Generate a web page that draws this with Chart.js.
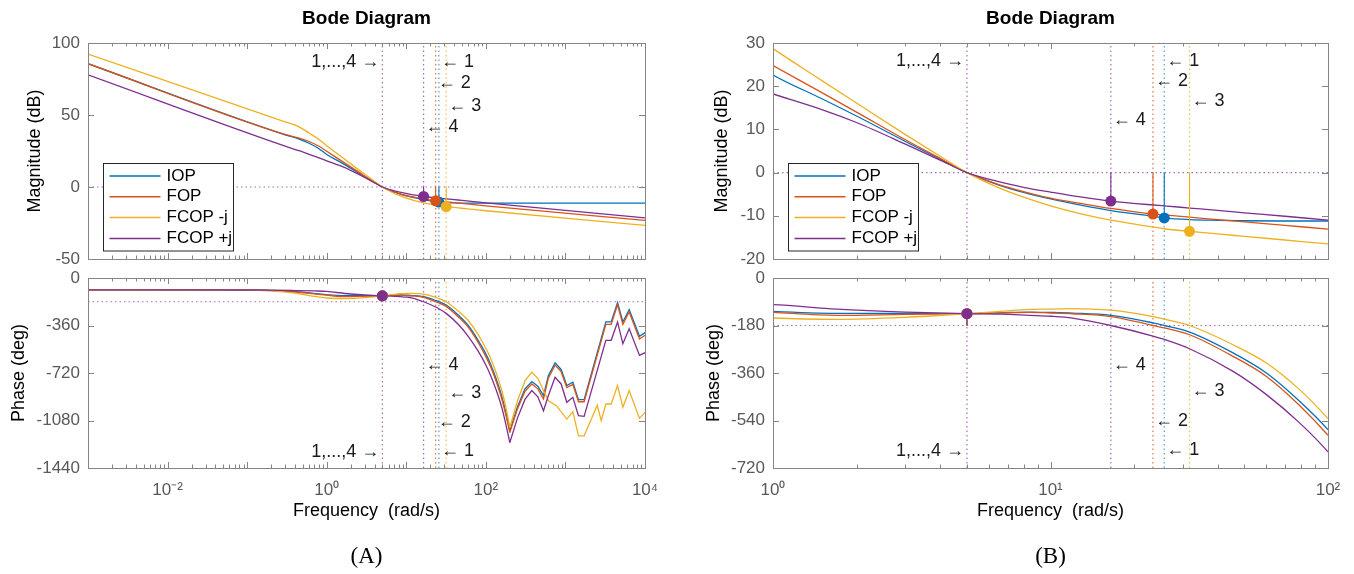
<!DOCTYPE html>
<html>
<head>
<meta charset="utf-8">
<script src="https://cdn.jsdelivr.net/npm/chart.js@4.4.1/dist/chart.umd.min.js"></script>
<style>
  html, body { margin: 0; padding: 0; background: #fff; }
  #wrap { position: relative; width: 1354px; height: 574px; }
  #wrap canvas { position: absolute; left: 0; top: 0; }
</style>
</head>
<body>
<div id="wrap">
  <canvas id="aMag" width="1354" height="574"></canvas>
  <canvas id="aPh" width="1354" height="574"></canvas>
  <canvas id="bMag" width="1354" height="574"></canvas>
  <canvas id="bPh" width="1354" height="574"></canvas>
</div>
<script>
// Bode plots (magnitude + phase) of four controllers, full band (A) and 1..100 rad/s (B)

Chart.defaults.font.family = "'Liberation Sans', Arial, Helvetica, sans-serif";
Chart.defaults.color = '#000';

const SERIES = ['IOP', 'FOP', 'FCOP -j', 'FCOP +j'];
const COLORS = ['#0072BD', '#D95319', '#EDB120', '#7E2F8E'];
const DOT_COLORS = ['#4da3dc', '#e07444', '#f2c14e', '#a66fb5'];
const AXIS_COLOR = '#858585';
const TICK_COLOR = '#595959';

// ---- magnitude (dB) ----
const W_MAG = [0.001, 0.3, 0.45, 0.6, 0.8, 1, 1.5, 2, 3, 4, 5, 6.4, 8, 10, 13, 16.5, 23.4, 25.7, 31.7, 40, 50, 70, 100, 10000];
const MAG_IOP      = [85.6, 36.2, 33.3, 30.4, 26.6, 22.6, 17.1, 13.1, 7.2, 3.1, 0, -2.7, -4.6, -6.1, -7.6, -8.8, -10.1, -10.5, -10.9, -11.05, -11.15, -11.2, -11.2, -11.2];
const MAG_FOP      = [85.6, 36.5, 34.0, 31.6, 28.3, 24.8, 18.5, 14.0, 7.6, 3.3, 0, -2.6, -4.4, -5.9, -7.2, -8.3, -9.6, -9.8, -10.3, -10.9, -11.4, -12.2, -13.1, -23.2];
const MAG_FCOP_NEG = [92.3, 45.3, 41.8, 37.5, 33.0, 28.7, 21.3, 16.1, 8.8, 3.8, 0, -3.3, -5.7, -7.7, -9.6, -11.0, -12.6, -13.0, -13.6, -14.2, -14.75, -15.6, -16.5, -26.7];
const MAG_FCOP_POS = [77.9, 28.4, 25.2, 22.6, 20.2, 18.2, 14.6, 11.6, 6.6, 2.9, 0, -2.0, -3.4, -4.5, -5.7, -6.6, -7.5, -7.7, -8.2, -8.75, -9.3, -10.1, -11.0, -21.4];

// ---- phase (deg), smooth part up to the notch ----
const W_PH = [0.001, 0.1, 0.2, 0.4, 0.7, 1, 1.7, 3, 5, 6.6, 8.4, 10, 12, 16.5, 23.4, 25.7, 31.7, 45.5, 60, 79, 100, 115, 135, 160, 180, 200];
const PH_IOP      = [-90, -91, -94, -104, -117, -126.5, -134, -134.6, -135.3, -132, -129, -130.5, -133, -141.6, -170, -180, -205, -284, -360, -467, -575, -655, -765, -905, -1030, -1158];
const PH_FOP      = [-90, -91, -95, -106, -121, -130, -141.5, -138, -135.3, -132, -130, -132.6, -135.5, -146, -180, -189, -215, -297, -373, -483, -596, -675, -785, -925, -1048, -1171];
const PH_FCOP_NEG = [-90, -91, -97, -115, -140, -151.6, -156.7, -149, -135.3, -126.5, -118.8, -117.6, -116, -122, -146, -156, -180, -253, -322, -423, -533, -610, -720, -860, -990, -1133];
const PH_FCOP_POS = [-90, -91, -92, -95, -98, -101, -117.6, -129, -135.3, -137, -141.6, -145, -152, -180, -220, -233, -268, -354, -442, -549, -659, -740, -850, -990, -1120, -1247];

// ---- phase (deg), high-frequency part ----
const W_TAIL = [200, 250, 310, 378, 450, 530, 611, 741, 883, 1040, 1239, 1459, 1718, 3221, 3758, 4519, 5272, 6324, 8531, 10000];
const TAIL_IOP      = [-1158, -975, -840, -785, -820, -891, -739, -643, -693, -815, -790, -922, -922, -333, -333, -185, -333, -239, -442, -414];
const TAIL_FOP      = [-1171, -990, -858, -803, -840, -917, -757, -660, -710, -830, -806, -938, -938, -352, -352, -203, -352, -257, -462, -434];
const TAIL_FCOP_POS = [-1247, -1060, -920, -853, -900, -1006, -891, -752, -803, -942, -904, -1044, -1049, -472, -472, -333, -498, -384, -587, -566];
const W_TAIL_NEG = [200, 250, 310, 378, 450, 530, 611, 771, 1040, 1239, 1459, 1718, 2254, 2512, 2818, 3221, 3758, 4519, 5272, 6324, 8531, 10000];
const TAIL_FCOP_NEG = [-1133, -930, -780, -714, -760, -853, -930, -968, -1069, -1013, -1196, -1196, -1031, -965, -1082, -955, -955, -815, -980, -853, -1064, -1018];

// ---- margins ----
const W_C = 5;                               // 0 dB crossing, shared by all four
const W_180 = [25.7, 23.4, 31.7, 16.5];      // -180 deg crossing per controller
const GM_DB = [-10.5, -9.6, -13.6, -6.6];
const PM_DEG = [-135, -135, -135, -135];

// ---- frequency tick labels ----
const A_FREQ_TICKS = [0.01, 1, 100, 10000];
const A_FREQ_LABELS = ['10\u207B\u00B2', '10\u2070', '10\u00B2', '10\u2074'];
const B_FREQ_TICKS = [1, 10, 100];
const B_FREQ_LABELS = ['10\u2070', '10\u00B9', '10\u00B2'];

const MAG = [MAG_IOP, MAG_FOP, MAG_FCOP_NEG, MAG_FCOP_POS];
const PH = [PH_IOP, PH_FOP, PH_FCOP_NEG, PH_FCOP_POS];
const TAIL_W = [W_TAIL, W_TAIL, W_TAIL_NEG, W_TAIL];
const TAIL = [TAIL_IOP, TAIL_FOP, TAIL_FCOP_NEG, TAIL_FCOP_POS];

const L = '\u2190 ', R = ' \u2192';

function pts(w, v) { return w.map((x, i) => ({ x, y: v[i] })); }

function bodeDatasets(kind, xr, yr) {
  const level = kind === 'mag' ? 0 : -180;
  const dotted = (i) => ({ borderColor: DOT_COLORS[i], borderWidth: 1.2, borderDash: [1.5, 3], pointRadius: 0, order: 300 - i });
  // crossover lines are shared by all four, only the last one plotted shows
  const sets = [
    { ...dotted(3), data: [{ x: W_C, y: yr[0] }, { x: W_C, y: yr[1] }] },
    { ...dotted(3), data: [{ x: xr[0], y: level }, { x: xr[1], y: level }] }
  ];
  for (let i = 0; i < 4; i++) {
    sets.push({ ...dotted(i), data: [{ x: W_180[i], y: yr[0] }, { x: W_180[i], y: yr[1] }] });

    const line = { borderColor: COLORS[i], borderWidth: 1.3, pointRadius: 0, order: 200 - i };
    const stem = { borderColor: COLORS[i], borderWidth: 1.1, pointRadius: 0, order: 100 - i };
    const dot = { showLine: false, pointRadius: 5.5, pointBorderWidth: 0, pointBackgroundColor: COLORS[i], order: 50 - i };
    if (kind === 'mag') {
      sets.push({ ...line, data: pts(W_MAG, MAG[i]), cubicInterpolationMode: 'monotone' });
      sets.push({ ...stem, data: [{ x: W_180[i], y: 0 }, { x: W_180[i], y: GM_DB[i] }] });
      sets.push({ ...dot, data: [{ x: W_180[i], y: GM_DB[i] }] });
    } else {
      sets.push({ ...line, data: pts(W_PH, PH[i]), cubicInterpolationMode: 'monotone' });
      sets.push({ ...line, data: pts(TAIL_W[i], TAIL[i]) });
      sets.push({ ...stem, data: [{ x: W_C, y: -180 }, { x: W_C, y: PM_DEG[i] }] });
      sets.push({ ...dot, data: [{ x: W_C, y: PM_DEG[i] }] });
    }
  }
  return sets;
}

// box, inward ticks, arrow notes and the boxed legend
const bodeDecor = {
  id: 'bodeDecor',
  afterDatasetsDraw(chart, args, opts) {
    const { ctx, chartArea: a, scales: { x, y } } = chart;
    ctx.save();
    ctx.strokeStyle = AXIS_COLOR;
    ctx.lineWidth = 1;
    ctx.beginPath();
    const e0 = Math.floor(Math.log10(x.min)), e1 = Math.ceil(Math.log10(x.max));
    for (let e = e0; e <= e1; e++) {
      for (let k = 1; k < 10; k++) {
        const v = k * Math.pow(10, e);
        if (v < x.min * 0.999 || v > x.max * 1.001) continue;
        const px = Math.round(x.getPixelForValue(v)) + 0.5;
        const len = k === 1 ? 6 : 3.5;
        ctx.moveTo(px, a.bottom); ctx.lineTo(px, a.bottom - len);
        ctx.moveTo(px, a.top); ctx.lineTo(px, a.top + len);
      }
    }
    y.ticks.forEach(t => {
      const py = Math.round(y.getPixelForValue(t.value)) + 0.5;
      ctx.moveTo(a.left, py); ctx.lineTo(a.left + 6, py);
      ctx.moveTo(a.right, py); ctx.lineTo(a.right - 6, py);
    });
    ctx.stroke();
    ctx.strokeRect(Math.round(a.left) + 0.5, Math.round(a.top) + 0.5, Math.round(a.width), Math.round(a.height));

    ctx.fillStyle = '#1a1a1a';
    ctx.font = "18px 'Liberation Sans', Arial, sans-serif";
    ctx.textBaseline = 'middle';
    (opts.notes || []).forEach(n => {
      const px = x.getPixelForValue(n.w);
      const py = y.getPixelForValue(n.y);
      ctx.textAlign = n.right ? 'right' : 'left';
      ctx.fillText(n.text, n.right ? px - 3 : px + 2, py);
    });

    if (opts.legend) {
      ctx.font = "17px 'Liberation Sans', Arial, sans-serif";
      const bx = Math.round(a.left + 14.5) + 0.5, by = Math.round(a.bottom - 96.5) + 0.5;
      ctx.fillStyle = '#fff';
      ctx.fillRect(bx, by, 130, 87.5);
      ctx.strokeStyle = '#262626';
      ctx.strokeRect(bx, by, 130, 87.5);
      ctx.textAlign = 'left';
      SERIES.forEach((name, i) => {
        const ry = by + 12.5 + i * 20.8;
        ctx.strokeStyle = COLORS[i];
        ctx.lineWidth = 1.5;
        ctx.beginPath(); ctx.moveTo(bx + 6, ry); ctx.lineTo(bx + 57, ry); ctx.stroke();
        ctx.fillStyle = '#000';
        ctx.fillText(name, bx + 63, ry);
      });
    }
    ctx.restore();
  }
};

function bodeChart(id, p) {
  const isMag = p.kind === 'mag';
  const padLeft = p.panel === 'A' ? 0 : 680;
  const subH = 23 * 1.2 + 17.2;
  return new Chart(document.getElementById(id), {
    type: 'line',
    data: { datasets: bodeDatasets(p.kind, p.x, p.y) },
    options: {
      responsive: false,
      animation: false,
      events: [],
      layout: {
        padding: {
          left: padLeft,
          right: 1354 - p.area.right,
          top: isMag ? 0 : p.area.top,
          bottom: isMag ? 574 - p.area.bottom : 574 - p.area.bottom - 58 - subH
        }
      },
      plugins: {
        legend: { display: false },
        tooltip: { enabled: false },
        title: {
          display: isMag, text: 'Bode Diagram', fullSize: false,
          font: { size: 19, weight: 'bold' }, color: '#000',
          padding: { top: 7, bottom: 43 - 7 - 19 * 1.2 }
        },
        subtitle: {
          display: !isMag, position: 'bottom', text: '(' + p.panel + ')', fullSize: false,
          font: { family: "'Liberation Serif', 'Times New Roman', serif", size: 23 }, color: '#000',
          padding: { top: 17.2, bottom: 0 }
        },
        bodeDecor: { notes: p.notes, legend: isMag }
      },
      scales: {
        x: {
          type: 'logarithmic', position: 'bottom', min: p.x[0], max: p.x[1],
          grid: { display: false, drawTicks: false }, border: { display: false },
          ticks: {
            display: !isMag, autoSkip: false, maxRotation: 0, padding: 12,
            color: TICK_COLOR, font: { size: 17 },
            callback: (v, i) => p.labels[i]
          },
          afterBuildTicks: s => { s.ticks = p.ticks.map(value => ({ value })); },
          afterFit: s => { s.height = isMag ? 0 : 58; },
          title: { display: !isMag, text: 'Frequency  (rad/s)', color: '#000', font: { size: 18 }, padding: { top: 0, bottom: 4.2 } }
        },
        y: {
          type: 'linear', position: 'left', min: p.y[0], max: p.y[1],
          grid: { display: false, drawTicks: false }, border: { display: false },
          ticks: { stepSize: p.y[2], color: TICK_COLOR, font: { size: 17 }, padding: 8, callback: v => String(v) },
          afterFit: s => { s.width = p.area.left - padLeft; },
          title: { display: true, text: isMag ? 'Magnitude (dB)' : 'Phase (deg)', color: '#000', font: { size: 18 }, padding: { top: p.yTitleX - padLeft - 10.8, bottom: 0 } }
        }
      }
    },
    plugins: [bodeDecor]
  });
}

bodeChart('aMag', {
  panel: 'A', kind: 'mag', x: [0.001, 10000], y: [-50, 100, 50],
  ticks: A_FREQ_TICKS, labels: A_FREQ_LABELS,
  area: { left: 88, right: 645, top: 43, bottom: 259 }, yTitleX: 35,
  notes: [
    { text: '1,...,4' + R, w: W_C, y: 86.5, right: true },
    { text: L + '1', w: W_180[0], y: 86.5 },
    { text: L + '2', w: W_180[1], y: 72.5 },
    { text: L + '3', w: W_180[2], y: 56.5 },
    { text: L + '4', w: W_180[3], y: 41.4 }
  ]
});

bodeChart('aPh', {
  panel: 'A', kind: 'phase', x: [0.001, 10000], y: [-1440, 0, 360],
  ticks: A_FREQ_TICKS, labels: A_FREQ_LABELS,
  area: { left: 88, right: 645, top: 278, bottom: 468 }, yTitleX: 19,
  notes: [
    { text: L + '4', w: W_180[3], y: -663 },
    { text: L + '3', w: W_180[2], y: -871 },
    { text: L + '2', w: W_180[1], y: -1095 },
    { text: L + '1', w: W_180[0], y: -1310 },
    { text: '1,...,4' + R, w: W_C, y: -1318, right: true }
  ]
});

bodeChart('bMag', {
  panel: 'B', kind: 'mag', x: [1, 100], y: [-20, 30, 10],
  ticks: B_FREQ_TICKS, labels: B_FREQ_LABELS,
  area: { left: 773, right: 1328, top: 43, bottom: 259 }, yTitleX: 722.5,
  notes: [
    { text: '1,...,4' + R, w: W_C, y: 25.9, right: true },
    { text: L + '1', w: W_180[0], y: 25.9 },
    { text: L + '2', w: W_180[1], y: 21.3 },
    { text: L + '3', w: W_180[2], y: 16.6 },
    { text: L + '4', w: W_180[3], y: 12.1 }
  ]
});

bodeChart('bPh', {
  panel: 'B', kind: 'phase', x: [1, 100], y: [-720, 0, 180],
  ticks: B_FREQ_TICKS, labels: B_FREQ_LABELS,
  area: { left: 773, right: 1328, top: 278, bottom: 468 }, yTitleX: 713.7,
  notes: [
    { text: L + '4', w: W_180[3], y: -328.6 },
    { text: L + '3', w: W_180[2], y: -429.7 },
    { text: L + '2', w: W_180[1], y: -543.4 },
    { text: L + '1', w: W_180[0], y: -653 },
    { text: '1,...,4' + R, w: W_C, y: -654, right: true }
  ]
});
</script>
</body>
</html>
